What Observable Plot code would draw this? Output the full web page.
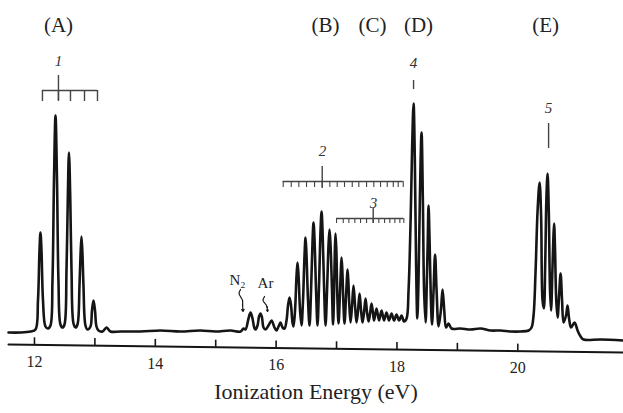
<!DOCTYPE html>
<html>
<head>
<meta charset="utf-8">
<script src="https://cdn.jsdelivr.net/npm/d3@7"></script>
<script src="https://cdn.jsdelivr.net/npm/@observablehq/plot@0.6"></script>
<style>
  html, body { margin: 0; padding: 0; background: #fff; }
  #chart svg { display: block; }
  #chart svg text { font-family: "Liberation Serif", "DejaVu Serif", serif !important; }
</style>
</head>
<body>
<div id="chart"></div>
<script>
// ---- Spectrum trace (energy in eV, intensity in arbitrary units)
const energy = [
  11.570, 11.768, 11.934, 12.017, 12.058, 12.083, 12.099, 12.116, 12.141, 12.182, 12.224,
  12.265, 12.298, 12.323, 12.348, 12.373, 12.397, 12.430, 12.464,
  12.497, 12.530, 12.551, 12.571, 12.593, 12.613, 12.646, 12.679,
  12.712, 12.745, 12.762, 12.778, 12.795, 12.811, 12.844, 12.877,
  12.927, 12.952, 12.977, 13.002, 13.026, 13.060,
  13.126, 13.192, 13.258, 13.424, 13.755, 14.086, 14.417, 14.748, 14.997, 15.245, 15.411,
  15.460, 15.493, 15.543, 15.576, 15.609, 15.642, 15.659,
  15.692, 15.717, 15.742, 15.766, 15.791, 15.824,
  15.874, 15.924, 15.973, 16.007, 16.040, 16.073, 16.106, 16.139,
  16.172, 16.197, 16.222, 16.247, 16.271, 16.288,
  16.313, 16.338, 16.354, 16.371, 16.396, 16.420,
  16.445, 16.470, 16.487, 16.503, 16.528, 16.553,
  16.578, 16.603, 16.619, 16.636, 16.661, 16.685,
  16.710, 16.735, 16.752, 16.768, 16.793, 16.818,
  16.843, 16.867, 16.884, 16.901, 16.925, 16.942,
  16.958, 16.972, 16.983, 16.997, 17.013, 17.033,
  17.055, 17.071, 17.083, 17.096, 17.112, 17.132,
  17.154, 17.170, 17.182, 17.195, 17.212, 17.232,
  17.257, 17.281, 17.306, 17.331,
  17.356, 17.381, 17.406, 17.430,
  17.455, 17.480, 17.505, 17.530,
  17.555, 17.579, 17.604, 17.621,
  17.662, 17.704, 17.745, 17.786, 17.827, 17.869, 17.910, 17.952, 17.993, 18.035, 18.076, 18.117,
  18.159, 18.192, 18.226, 18.250, 18.275, 18.296, 18.316, 18.337,
  18.357, 18.379, 18.407, 18.429, 18.449, 18.474,
  18.495, 18.510, 18.523, 18.540, 18.560, 18.581,
  18.606, 18.631, 18.656, 18.689,
  18.727, 18.755, 18.783, 18.813,
  18.854, 18.904, 19.053, 19.218, 19.384, 19.550, 19.715, 19.881, 20.047, 20.179,
  20.228, 20.261, 20.295, 20.328, 20.361, 20.386, 20.410, 20.432,
  20.455, 20.473, 20.493, 20.513, 20.534, 20.551,
  20.573, 20.588, 20.601, 20.617, 20.637, 20.659,
  20.684, 20.709, 20.733, 20.758,
  20.799, 20.824, 20.849, 20.882,
  20.940, 20.990, 21.040, 21.089, 21.371, 21.751
];
const intensity = [
  13, 13, 14, 16, 45, 95, 113, 95, 45, 19, 17,
  20, 65, 165, 230, 165, 65, 21, 18,
  21, 75, 145, 193, 145, 75, 22, 18,
  21, 60, 90, 109, 90, 60, 20, 16,
  19, 35, 45, 35, 19, 15,
  14, 18, 14, 14, 14, 15, 14, 15, 14, 15, 14,
  17, 16, 27, 33, 27, 17, 16,
  20, 29, 32, 28, 18, 16,
  20, 25, 18, 15, 19, 23, 18, 17,
  25, 40, 48, 40, 23, 19,
  35, 70, 83, 70, 35, 20,
  45, 90, 108, 90, 45, 20,
  55, 105, 123, 105, 55, 20,
  60, 115, 134, 115, 60, 20,
  55, 100, 116, 100, 55, 21,
  50, 95, 112, 95, 50, 22,
  50, 75, 88, 75, 45, 22,
  45, 65, 76, 65, 40, 23,
  40, 60, 40, 23,
  35, 52, 35, 23,
  33, 47, 33, 24,
  32, 42, 32, 25,
  37, 25, 35, 25, 33, 25, 32, 25, 31, 25, 30, 24,
  27, 55, 125, 195, 242, 185, 85, 27,
  65, 145, 213, 145, 55, 23,
  65, 105, 140, 105, 50, 21,
  55, 91, 55, 19,
  35, 56, 35, 18,
  22, 17, 17, 16, 17, 15, 15, 14, 14, 15,
  18, 30, 75, 135, 163, 130, 45, 37,
  85, 145, 172, 135, 55, 35,
  75, 105, 122, 95, 45, 28,
  50, 72, 45, 23,
  30, 40, 27, 18,
  23, 15, 9, 6, 6, 5
];

// ---- Axis
const axisEnds = [11.57, 21.75];
const axisEndLevels = [1, -7];          // the scanned axis runs slightly downhill
const tickValues = [12, 13, 14, 15, 16, 17, 18, 19, 20];
const tickLabels = ["12", "14", "16", "18", "20"];
const axisTitle = "Ionization Energy (eV)";

// ---- Band labels
const bandNames = ["(A)", "(B)", "(C)", "(D)", "(E)"];
const bandEnergy = [12.397, 16.818, 17.596, 18.357, 20.460];
const bandLevel = 320;

// ---- Progression numbers
const progNames = ["1", "2", "3", "4", "5"];
const progEnergy = [12.397, 16.768, 17.613, 18.275, 20.510];
const progLevel = [284, 194, 142, 282, 237];

// ---- Progression combs
const comb1Ticks = [12.132, 12.397, 12.596, 12.828, 13.043];
const comb1Level = 255;
const comb2Ticks = [16.117, 16.250, 16.376, 16.503, 16.636, 16.763, 16.889, 17.011, 17.132, 17.260,
                    17.369, 17.497, 17.617, 17.728, 17.839, 17.939, 18.021, 18.104];
const comb2Level = 164;
const comb3Ticks = [17.000, 17.111, 17.204, 17.303, 17.397, 17.497, 17.607, 17.700, 17.795, 17.882,
                    17.965, 18.048, 18.114];
const comb3Level = 127;
const combMain = [
  {e: 12.397, top: 270, bottom: 245},
  {e: 16.763, top: 179, bottom: 157},
  {e: 17.607, top: 137, bottom: 122}
];
const singleMarks = [
  {e: 18.275, top: 265, bottom: 256},
  {e: 20.510, top: 222, bottom: 197}
];

// ---- Contaminant labels and arrows
const gasNames = ["N₂", "Ar"];
const gasEnergy = [15.361, 15.824];
const gasLevel = [65, 62];
const n2Curl = {e: [15.411, 15.386, 15.419, 15.444, 15.444], v: [56, 52, 48, 45, 40]};
const arCurl = {e: [15.808, 15.783, 15.816, 15.841, 15.850], v: [49, 45, 42, 40, 38]};
const gasArrows = [
  {e1: 15.444, v1: 41, e2: 15.452, v2: 34},
  {e1: 15.850, v1: 39, e2: 15.858, v2: 34}
];

// ---- Build tables
const trace = energy.map((e, k) => ({e, v: intensity[k]}));
const axisLine = axisEnds.map((e, k) => ({e, v: axisEndLevels[k]}));
const axisAt = d3.scaleLinear().domain(axisEnds).range(axisEndLevels);
const combRows = (ticks, level, len) => ticks.map(e => ({e, top: level, bottom: level - len}));
const combSpan = (ticks, level) => [{e1: ticks[0], e2: ticks[ticks.length - 1], v: level}];
const curlRows = c => c.e.map((e, k) => ({e, v: c.v[k]}));

const serif = "Liberation Serif";
const ink = "#151515";
const combInk = "#444";

const chart = Plot.plot({
  width: 623,
  height: 413,
  marginLeft: 8,
  marginRight: 0,
  marginTop: 85,
  marginBottom: 68,
  style: {background: "#fff", fontFamily: "'Liberation Serif', 'DejaVu Serif', serif"},
  x: {domain: [11.57, 21.75], axis: null},
  y: {domain: [0, 260], axis: null},
  marks: [
    // axis
    Plot.line(axisLine, {x: "e", y: "v", stroke: ink, strokeWidth: 2}),
    Plot.ruleX(tickValues, {x: d => d, y1: d => axisAt(d), y2: d => axisAt(d) + 7, stroke: ink, strokeWidth: 1.6}),
    Plot.text(tickLabels, {x: d => +d, y: d => axisAt(+d), text: d => d, dy: 17, fontSize: 16, fontFamily: serif, fill: "#222"}),
    Plot.text([axisTitle], {frameAnchor: "bottom", dy: 53, fontSize: 22, fontFamily: serif, fill: "#222"}),

    // spectrum
    Plot.line(trace, {x: "e", y: "v", curve: "catmull-rom", stroke: ink, strokeWidth: 2.6, strokeLinejoin: "round"}),

    // band labels
    Plot.text(bandNames, {x: (d, k) => bandEnergy[k], y: bandLevel, text: d => d, fontSize: 21, fontFamily: serif, fill: "#222"}),

    // progression combs
    Plot.ruleY(combSpan(comb1Ticks, comb1Level), {x1: "e1", x2: "e2", y: "v", stroke: combInk, strokeWidth: 1.4}),
    Plot.ruleX(combRows(comb1Ticks, comb1Level, 11), {x: "e", y1: "bottom", y2: "top", stroke: combInk, strokeWidth: 1.4}),
    Plot.ruleY(combSpan(comb2Ticks, comb2Level), {x1: "e1", x2: "e2", y: "v", stroke: combInk, strokeWidth: 1.3}),
    Plot.ruleX(combRows(comb2Ticks, comb2Level, 6), {x: "e", y1: "bottom", y2: "top", stroke: combInk, strokeWidth: 1.1}),
    Plot.ruleY(combSpan(comb3Ticks, comb3Level), {x1: "e1", x2: "e2", y: "v", stroke: combInk, strokeWidth: 1.3}),
    Plot.ruleX(combRows(comb3Ticks, comb3Level, 5), {x: "e", y1: "bottom", y2: "top", stroke: combInk, strokeWidth: 1.1}),
    Plot.ruleX(combMain, {x: "e", y1: "bottom", y2: "top", stroke: combInk, strokeWidth: 1.4}),
    Plot.ruleX(singleMarks, {x: "e", y1: "bottom", y2: "top", stroke: combInk, strokeWidth: 1.4}),

    // progression numbers
    Plot.text(progNames, {x: (d, k) => progEnergy[k], y: (d, k) => progLevel[k], text: d => d,
      fontSize: 15, fontStyle: "italic", fontFamily: serif, fill: "#333"}),

    // N2 / Ar markers
    Plot.text(gasNames, {x: (d, k) => gasEnergy[k], y: (d, k) => gasLevel[k], text: d => d, fontSize: 15, fontFamily: serif, fill: "#222"}),
    Plot.line(curlRows(n2Curl), {x: "e", y: "v", curve: "catmull-rom", stroke: ink, strokeWidth: 1.2}),
    Plot.line(curlRows(arCurl), {x: "e", y: "v", curve: "catmull-rom", stroke: ink, strokeWidth: 1.2}),
    Plot.arrow(gasArrows, {x1: "e1", y1: "v1", x2: "e2", y2: "v2", stroke: ink, strokeWidth: 1.2, headLength: 5})
  ]
});

document.getElementById("chart").appendChild(chart);
</script>
</body>
</html>
